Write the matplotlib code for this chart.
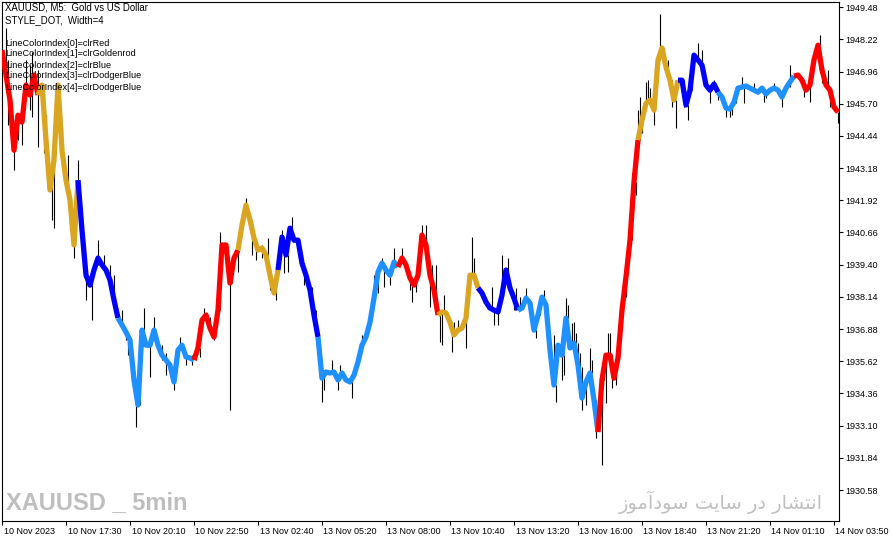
import numpy as np
import matplotlib.pyplot as plt
from matplotlib import transforms

# indicator line (close), one value every 2nd M5 bar
close_vals = [
    1947.80, 1946.82, 1945.84, 1943.88, 1945.25, 1944.98, 1946.43, 1946.04, 1946.82, 1946.04,
    1946.43, 1944.28, 1942.32, 1943.49, 1946.43, 1943.88, 1942.71, 1941.93, 1940.17, 1942.71,
    1940.75, 1938.99, 1938.60, 1939.19, 1939.66, 1939.39, 1939.19, 1938.80, 1938.02, 1937.31,
    1937.04, 1936.76, 1936.45, 1934.89, 1933.91, 1936.84, 1936.25, 1936.25, 1936.84, 1936.25,
    1935.86, 1935.67, 1935.47, 1934.81, 1936.06, 1936.25, 1935.79, 1935.75, 1935.67, 1936.14,
    1937.23, 1937.43, 1936.92, 1936.57, 1937.62, 1940.17, 1940.17, 1938.68, 1939.66, 1939.97,
    1940.95, 1941.73, 1941.15, 1940.44, 1939.97, 1940.05, 1939.78, 1938.99, 1938.29, 1939.19,
    1940.48, 1939.78, 1940.83, 1940.36, 1940.36, 1939.46, 1938.99, 1938.41, 1937.43, 1936.57,
    1934.96, 1935.20, 1935.16, 1935.20, 1934.89, 1935.16, 1934.89, 1934.81, 1935.08, 1935.59,
    1936.25, 1936.57, 1937.15, 1938.09, 1939.11, 1939.46, 1939.19, 1938.99, 1939.50, 1939.31,
    1939.66, 1939.39, 1938.88, 1938.60, 1938.99, 1940.56, 1940.17, 1938.99, 1938.41, 1937.43,
    1937.55, 1937.51, 1937.15, 1936.65, 1936.84, 1936.92, 1937.31, 1938.99, 1938.99, 1938.49,
    1938.29, 1937.94, 1937.70, 1937.62, 1937.55, 1938.21, 1939.19, 1938.49, 1938.09, 1937.62,
    1937.70, 1938.09, 1937.90, 1936.84, 1937.43, 1938.13, 1937.82, 1936.06, 1934.69, 1936.25,
    1935.86, 1937.31, 1936.14, 1936.33, 1935.47, 1934.18, 1934.81, 1935.16, 1934.10, 1932.85,
    1934.89, 1935.86, 1935.86, 1934.96, 1935.75, 1937.62, 1938.92, 1940.36, 1942.63, 1944.28,
    1945.06, 1945.72, 1945.84, 1945.45, 1947.41, 1947.88, 1947.13, 1946.62, 1945.84, 1946.62,
    1946.62, 1945.65, 1946.23, 1947.60, 1947.41, 1947.21, 1946.43, 1946.23, 1946.47, 1946.15,
    1945.96, 1945.53, 1945.49, 1945.76, 1946.31, 1946.35, 1946.39, 1946.31, 1946.23, 1946.15,
    1946.31, 1946.08, 1946.23, 1946.31, 1946.23, 1945.96, 1946.31, 1946.55, 1946.78, 1946.82,
    1946.62, 1946.23, 1946.43, 1947.41, 1947.99, 1947.02, 1946.43, 1946.23, 1945.57, 1945.37,
]

# colour index runs (LineColorIndex 0..4)
run_lengths = [10, 10, 10, 19, 11, 10, 10, 20, 10, 10, 10, 20, 10, 10, 10, 19, 11]
run_colors = [0, 1, 2, 3, 0, 1, 2, 3, 0, 1, 2, 3, 0, 1, 2, 3, 0]

# visible bar wicks: bar number, high, low
wick_bar = [
    2, 3, 6, 8, 10, 12, 14, 15, 18, 21, 22, 25, 26, 30, 33, 34, 36, 38, 40, 42,
    45, 48, 51, 54, 56, 60, 62, 63, 67, 69, 71, 74, 76, 80, 82, 86, 89, 92, 95, 97,
    99, 101, 104, 106, 109, 112, 114, 115, 118, 122, 125, 127, 130, 133, 134, 137, 140, 141, 143, 145,
    150, 151, 155, 157, 160, 161, 165, 168, 169, 175, 180, 186, 188, 190, 191, 194, 196, 200, 204, 205,
    207, 210, 212, 214, 215, 217, 219, 220, 221, 225, 226, 228, 232, 235, 236, 245, 246, 248, 250, 253,
    256, 257, 259, 262, 264, 267, 269, 271, 276, 277, 280, 281, 282, 283, 285, 286, 287, 288, 289, 290,
    292, 294, 295, 296, 297, 300, 301, 302, 303, 304, 305, 307, 312, 314, 315, 317, 318, 319, 320, 322,
    323, 324, 326, 329, 331, 333, 335, 337, 341, 343, 345, 348, 350, 354, 356, 358, 362, 364, 365, 367,
    370, 371, 376, 381, 382, 386, 390, 394, 401, 404, 406, 409, 410, 413, 414, 418,
]
wick_high = [
    1948.66, 1947.41, 1943.89, 1945.25, 1945.06, 1947.41, 1947.21, 1947.72, 1947.02, 1945.84,
    1945.25, 1943.89, 1943.10, 1944.78, 1943.69, 1941.93, 1940.36, 1943.49, 1940.17, 1938.80,
    1938.80, 1940.36, 1939.78, 1939.38, 1938.99, 1937.62, 1936.84, 1936.72, 1934.10, 1935.86,
    1937.70, 1935.94, 1937.35, 1936.25, 1935.94, 1935.08, 1936.57, 1935.86, 1935.86, 1936.33,
    1936.06, 1937.70, 1937.35, 1936.72, 1940.68, 1939.97, 1938.52, 1939.70, 1939.70, 1942.01,
    1940.75, 1939.97, 1940.17, 1940.44, 1939.07, 1938.41, 1940.75, 1939.58, 1939.58, 1941.26,
    1939.78, 1939.19, 1938.52, 1937.62, 1934.77, 1935.28, 1935.67, 1935.00, 1935.47, 1934.89,
    1936.65, 1938.99, 1938.60, 1939.66, 1938.88, 1938.99, 1940.05, 1940.05, 1938.80, 1938.48,
    1938.68, 1940.95, 1940.95, 1938.48, 1939.38, 1939.38, 1936.76, 1936.76, 1938.21, 1936.37,
    1937.15, 1937.23, 1936.45, 1940.48, 1939.66, 1938.52, 1937.51, 1937.51, 1939.78, 1939.66,
    1938.09, 1938.48, 1938.13, 1938.48, 1937.90, 1936.84, 1937.90, 1938.41, 1936.65, 1934.61,
    1935.78, 1935.78, 1938.09, 1937.82, 1937.11, 1937.15, 1936.72, 1936.33, 1935.94, 1935.39,
    1934.22, 1936.14, 1935.67, 1934.38, 1932.93, 1932.54, 1935.94, 1934.89, 1936.72, 1936.72,
    1935.00, 1935.08, 1939.07, 1940.36, 1942.98, 1942.32, 1945.45, 1945.96, 1944.98, 1946.55,
    1946.62, 1946.31, 1945.18, 1949.21, 1947.68, 1947.41, 1945.96, 1945.72, 1946.04, 1945.25,
    1947.41, 1948.07, 1947.80, 1946.04, 1946.62, 1945.96, 1945.45, 1945.33, 1945.57, 1945.96,
    1946.74, 1946.11, 1946.50, 1945.96, 1946.23, 1946.50, 1945.96, 1947.21, 1946.11, 1946.23,
    1947.80, 1948.38, 1947.29, 1947.02, 1945.96, 1945.33,
]
wick_low = [
    1946.62, 1944.86, 1943.10, 1944.28, 1944.08, 1946.23, 1945.45, 1945.18, 1944.00, 1943.77,
    1943.89, 1941.15, 1940.83, 1943.49, 1941.93, 1940.75, 1939.66, 1942.91, 1939.78, 1938.02,
    1937.23, 1939.38, 1939.19, 1938.80, 1938.41, 1937.15, 1936.45, 1935.86, 1933.05, 1933.98,
    1937.23, 1935.00, 1936.65, 1935.67, 1935.08, 1934.49, 1936.18, 1935.47, 1935.47, 1936.06,
    1935.78, 1937.35, 1936.84, 1936.45, 1939.97, 1939.30, 1933.71, 1939.07, 1939.11, 1941.73,
    1939.78, 1939.58, 1939.66, 1940.05, 1938.41, 1938.02, 1940.36, 1939.07, 1939.11, 1940.95,
    1939.27, 1938.60, 1938.02, 1936.96, 1934.02, 1934.49, 1935.28, 1934.49, 1935.20, 1934.18,
    1936.25, 1938.33, 1938.29, 1939.38, 1938.52, 1938.60, 1939.78, 1939.78, 1938.41, 1937.94,
    1938.33, 1940.68, 1940.56, 1937.74, 1938.88, 1938.80, 1936.37, 1936.25, 1937.74, 1935.98,
    1936.92, 1936.84, 1936.14, 1939.38, 1939.38, 1938.33, 1937.04, 1937.04, 1939.50, 1939.11,
    1937.62, 1938.13, 1937.74, 1938.29, 1937.35, 1936.53, 1937.62, 1938.13, 1936.25, 1934.02,
    1934.89, 1935.08, 1937.35, 1937.31, 1936.76, 1936.33, 1936.33, 1935.78, 1935.00, 1933.71,
    1933.91, 1935.67, 1935.28, 1933.71, 1932.62, 1931.56, 1934.89, 1933.98, 1936.33, 1936.18,
    1934.57, 1934.69, 1938.13, 1940.09, 1942.44, 1942.12, 1945.06, 1945.45, 1944.55, 1945.92,
    1946.23, 1945.96, 1944.86, 1948.07, 1947.41, 1946.82, 1945.57, 1944.74, 1945.57, 1945.06,
    1947.13, 1947.80, 1947.29, 1945.72, 1946.35, 1945.84, 1945.18, 1945.18, 1945.25, 1945.72,
    1946.50, 1945.72, 1946.35, 1945.76, 1945.92, 1946.35, 1945.57, 1946.35, 1945.96, 1945.76,
    1947.41, 1948.07, 1946.50, 1946.62, 1945.57, 1944.94,
]

price_ticks = [1930.58, 1931.84, 1933.10, 1934.36, 1935.62, 1936.88, 1938.14, 1939.40,
               1940.66, 1941.92, 1943.18, 1944.44, 1945.70, 1946.96, 1948.22, 1949.48]
time_ticks = [0, 32, 64, 96, 128, 160, 192, 224, 256, 288, 320, 352, 384, 416]
time_labels = ['10 Nov 2023', '10 Nov 17:30', '10 Nov 20:10', '10 Nov 22:50', '13 Nov 02:40',
               '13 Nov 05:20', '13 Nov 08:00', '13 Nov 10:40', '13 Nov 13:20', '13 Nov 16:00',
               '13 Nov 18:40', '13 Nov 21:20', '14 Nov 01:10', '14 Nov 03:50']

color_names = ['clrRed', 'clrGoldenrod', 'clrBlue', 'clrDodgerBlue', 'clrDodgerBlue']
palette = ['#FF0000', '#DAA520', '#0000FF', '#1E90FF']

small = 'Liberation Sans'

W, H = 892, 543
fig = plt.figure(figsize=(W / 100, H / 100), dpi=100)
ax = fig.add_axes([2 / W, 22 / H, 837 / W, 519 / H])

close = np.array(close_vals)
bars = np.arange(len(close)) * 2

# bar high-low lines, kept attached to the close line
near = close[np.minimum(np.array(wick_bar) // 2, len(close) - 1)]
ax.vlines(wick_bar, np.minimum(wick_low, near), np.maximum(wick_high, near),
          color='black', lw=0.8, zorder=2)

start = 0
for n, ci in zip(run_lengths, run_colors):
    i0 = max(start - 1, 0)
    ax.plot(bars[i0:start + n], close[i0:start + n], color=palette[ci], lw=3.8,
            solid_capstyle='butt', zorder=3)
    start += n

ax.set_xlim(0, 418.5)
ax.set_ylim(1929.37, 1949.68)

for s in ax.spines.values():
    s.set_linewidth(0.8)

ax.yaxis.tick_right()
ax.set_yticks(price_ticks)
ax.set_yticklabels([f'{p:.2f}' for p in price_ticks], family=small)
ax.tick_params(axis='y', direction='out', length=3, width=0.8, pad=1.5, labelsize=6.5)
ax.set_xticks(time_ticks)
ax.set_xticklabels(time_labels, family=small)
ax.tick_params(axis='x', direction='out', length=3, width=0.8, pad=1.5, labelsize=6.5)
shift = transforms.ScaledTranslation(1.5 / 100, 0, fig.dpi_scale_trans)
for lbl in ax.get_xticklabels():
    lbl.set_horizontalalignment('left')
    lbl.set_transform(lbl.get_transform() + shift)

# header texts
fig.text(5 / W, 1 - 8 / H, 'XAUUSD, M5:  Gold vs US Dollar', fontsize=6.9,
         va='center', family=small)
fig.text(5 / W, 1 - 20 / H, 'STYLE_DOT,  Width=4', fontsize=6.9, va='center', family=small)
for k, name in enumerate(color_names):
    fig.text(5 / W, 1 - (43 + 11 * k) / H, f'LineColorIndex[{k}]={name}',
             fontsize=6.6, va='center', zorder=5, family=small)

# watermarks
fig.text(6 / W, 1 - 503 / H, 'XAUUSD _ 5min', fontsize=17, fontweight='bold',
         color='#BEBEBE', va='center', family=small)
# "انتشار در سایت سودآموز" in presentation forms, visual order
persian = ('\uFEAF\uFEEE\uFEE3\uFE81\uFEA9\uFEEE\uFEB3 '
           '\uFE96\uFEF3\uFE8E\uFEB3 '
           '\uFEAD\uFEA9 '
           '\uFEAD\uFE8E\uFEB8\uFE98\uFEE7\uFE8D')
fig.text(823 / W, 1 - 502 / H, persian, fontsize=14, color='#C0C0C0',
         ha='right', va='center', family='DejaVu Sans')

fig.savefig('out.png', dpi=100)
